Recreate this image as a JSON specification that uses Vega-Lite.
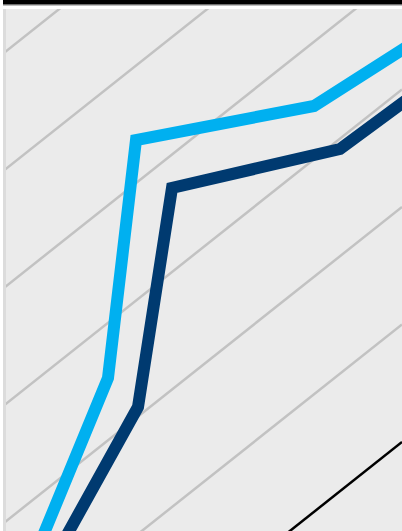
{
  "$schema": "https://vega.github.io/schema/vega-lite/v6.json",
  "width": 402,
  "height": 531,
  "autosize": {"type": "fit", "contains": "padding"},
  "padding": 0,
  "background": "#ffffff",
  "config": {"view": {"stroke": null}, "axis": {"disable": true}},
  "datasets": {
    "grid": [
      {"g": 1, "x": 0, "y": 56}, {"g": 1, "x": 402, "y": -263},
      {"g": 2, "x": 0, "y": 173.5}, {"g": 2, "x": 402, "y": -145.5},
      {"g": 3, "x": 0, "y": 291}, {"g": 3, "x": 402, "y": -28},
      {"g": 4, "x": 0, "y": 408.5}, {"g": 4, "x": 402, "y": 89.5},
      {"g": 5, "x": 0, "y": 526}, {"g": 5, "x": 402, "y": 207},
      {"g": 6, "x": 0, "y": 643.5}, {"g": 6, "x": 402, "y": 324.5},
      {"g": 8, "x": 0, "y": 878.5}, {"g": 8, "x": 402, "y": 559.5}
    ],
    "ref": [
      {"x": 0, "y": 761}, {"x": 402, "y": 442}
    ],
    "series": [
      {"s": "A", "o": 1, "x": 33, "y": 560},
      {"s": "A", "o": 2, "x": 108, "y": 378},
      {"s": "A", "o": 3, "x": 136, "y": 140},
      {"s": "A", "o": 4, "x": 314, "y": 106},
      {"s": "A", "o": 5, "x": 420, "y": 38.5},
      {"s": "B", "o": 1, "x": 53, "y": 560},
      {"s": "B", "o": 2, "x": 138, "y": 407},
      {"s": "B", "o": 3, "x": 172, "y": 188},
      {"s": "B", "o": 4, "x": 340, "y": 149},
      {"s": "B", "o": 5, "x": 420, "y": 90}
    ]
  },
  "encoding": {
    "x": {"field": "x", "type": "quantitative", "scale": {"domain": [0, 402], "nice": false, "zero": false}, "axis": null},
    "y": {"field": "y", "type": "quantitative", "scale": {"domain": [0, 531], "nice": false, "zero": false, "reverse": true}, "axis": null}
  },
  "layer": [
    {
      "data": {"values": [{"x": 6, "x2": 402, "y": 9, "y2": 531}]},
      "mark": {"type": "rect", "fill": "#ebebeb"},
      "encoding": {"x2": {"field": "x2"}, "y2": {"field": "y2"}}
    },
    {
      "data": {"name": "grid"},
      "mark": {"type": "line", "stroke": "#c2c2c2", "strokeWidth": 2.5, "clip": true},
      "encoding": {"detail": {"field": "g", "type": "nominal"}, "order": {"field": "x", "type": "quantitative"}}
    },
    {
      "data": {"name": "ref"},
      "mark": {"type": "line", "stroke": "#000000", "strokeWidth": 2.5, "clip": true},
      "encoding": {"order": {"field": "x", "type": "quantitative"}}
    },
    {
      "data": {"name": "series"},
      "mark": {"type": "line", "strokeWidth": 12, "strokeJoin": "miter", "strokeCap": "butt", "clip": true},
      "encoding": {
        "color": {"field": "s", "type": "nominal", "scale": {"domain": ["A", "B"], "range": ["#00b0f0", "#003a70"]}, "legend": null},
        "order": {"field": "o", "type": "quantitative"}
      }
    },
    {
      "data": {"values": [{"x": 0, "x2": 402, "y": 0, "y2": 9}, {"x": 0, "x2": 6, "y": 0, "y2": 531}]},
      "mark": {"type": "rect", "fill": "#ffffff"},
      "encoding": {"x2": {"field": "x2"}, "y2": {"field": "y2"}}
    },
    {
      "data": {"values": [{"x": 3, "x2": 6, "y": 9, "y2": 531}]},
      "mark": {"type": "rect", "fill": "#dcdcdc"},
      "encoding": {"x2": {"field": "x2"}, "y2": {"field": "y2"}}
    },
    {
      "data": {"values": [{"x": 3, "x2": 402, "y": 4.5, "y2": 6}]},
      "mark": {"type": "rect", "fill": "#bdbdbd"},
      "encoding": {"x2": {"field": "x2"}, "y2": {"field": "y2"}}
    },
    {
      "data": {"values": [{"x": 3, "x2": 402, "y": 0, "y2": 4.5}]},
      "mark": {"type": "rect", "fill": "#000000"},
      "encoding": {"x2": {"field": "x2"}, "y2": {"field": "y2"}}
    }
  ]
}
